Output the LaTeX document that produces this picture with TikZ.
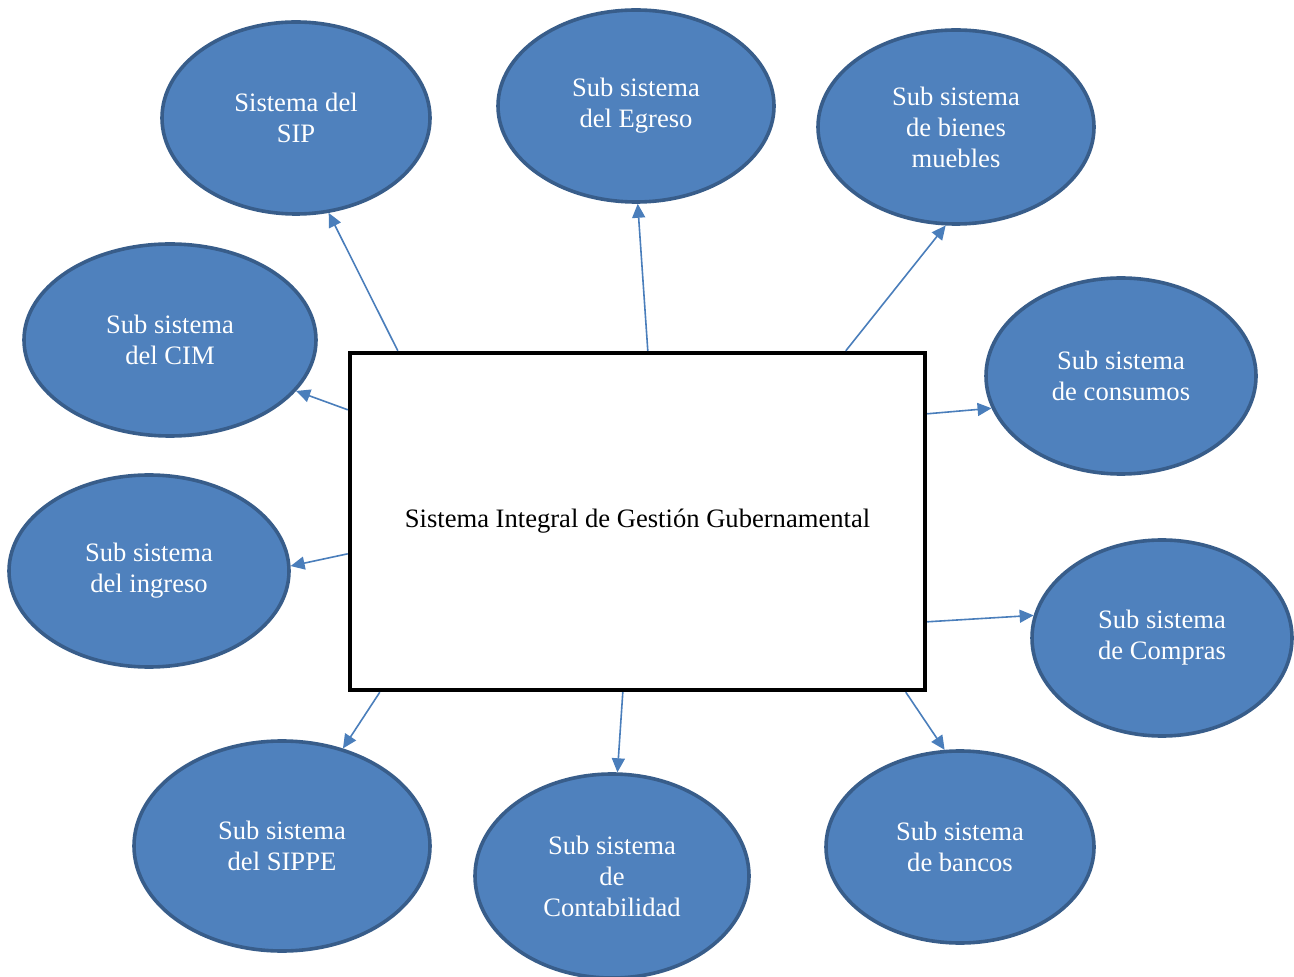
\documentclass[tikz,border=0pt]{standalone}
\usepackage{fontspec}
\setmainfont{Liberation Serif}
\usepackage{xcolor}
\definecolor{subfill}{RGB}{79,129,189}
\definecolor{subline}{RGB}{56,93,138}
\definecolor{linkblue}{RGB}{74,126,187}
\usetikzlibrary{arrows.meta,positioning,shapes.geometric,calc}
\tikzset{
  subsys/.style={draw=subline, line width=1.8pt, fill=subfill, ellipse,
                 text=white, align=center, inner sep=0pt,
                 font=\fontsize{13.3}{15.5}\selectfont},
  mainbox/.style={draw=black, line width=2.2pt, fill=white, inner sep=0pt,
                  minimum width=287.5pt, minimum height=168.5pt,
                  font=\fontsize{13.3}{15}\selectfont},
  link/.style={draw=linkblue, line width=0.8pt,
               -{Triangle[length=7pt, width=6.5pt]}},
}
\begin{document}
\begin{tikzpicture}[x=0.5pt, y=-0.5pt]
  \useasboundingbox (0,0) rectangle (1294,977);

  % Central system
  \node[mainbox] (box) at (637.5,521.5) {\raisebox{-2pt}{Sistema Integral de Gestión Gubernamental}};

  % Sub systems
  \node[subsys, minimum width=134pt, minimum height=96pt] (sip) at (296,118) {Sistema del\\SIP};
  \node[subsys, minimum width=138pt, minimum height=96pt] (egreso) at (636,106) {Sub sistema\\del Egreso};
  \node[subsys, minimum width=138pt, minimum height=97pt] (bienes) at (956,127) {Sub sistema\\de bienes\\muebles};
  \node[subsys, minimum width=146pt, minimum height=96pt] (cim) at (170,340) {Sub sistema\\del CIM};
  \node[subsys, minimum width=135pt, minimum height=98pt] (consumos) at (1121,376) {Sub sistema\\de consumos};
  \node[subsys, minimum width=140pt, minimum height=96pt] (ingreso) at (149,571) {Sub sistema\\del ingreso};
  \node[subsys, minimum width=130pt, minimum height=98pt] (compras) at (1162,638) {Sub sistema\\de Compras};
  \node[subsys, minimum width=148pt, minimum height=105pt] (sippe) at (282,846) {Sub sistema\\del SIPPE};
  \node[subsys, minimum width=137pt, minimum height=102pt] (conta) at (612,876) {Sub sistema\\de\\Contabilidad};
  \node[subsys, minimum width=134pt, minimum height=96pt] (bancos) at (960,847) {Sub sistema\\de bancos};

  % Start points on the box
  \coordinate (s1) at ($(box.north west)+(50,0)$);
  \coordinate (s2) at ($(box.north west)+(300,0)$);
  \coordinate (s3) at ($(box.north west)+(498,0)$);
  \coordinate (s4) at ($(box.north west)+(0,59)$);
  \coordinate (s5) at ($(box.north east)+(0,63)$);
  \coordinate (s6) at ($(box.north west)+(0,203)$);
  \coordinate (s7) at ($(box.north east)+(0,271)$);
  \coordinate (s8) at ($(box.south west)+(32,0)$);
  \coordinate (s9) at ($(box.south west)+(275,0)$);
  \coordinate (s10) at ($(box.south west)+(558,0)$);

  % Links
  \draw[link] (s1) -- (sip.-71);
  \draw[link] (s2) -- (egreso.-89);
  \draw[link] (s3) -- (bienes.-96);
  \draw[link] (s4) -- (cim.-22);
  \draw[link] (s5) -- (consumos.-166);
  \draw[link] (s6) -- (ingreso.2);
  \draw[link] (s7) -- (compras.170);
  \draw[link] (s8) -- (sippe.58);
  \draw[link] (s9) -- (conta.87);
  \draw[link] (s10) -- (bancos.99);
\end{tikzpicture}
\end{document}
